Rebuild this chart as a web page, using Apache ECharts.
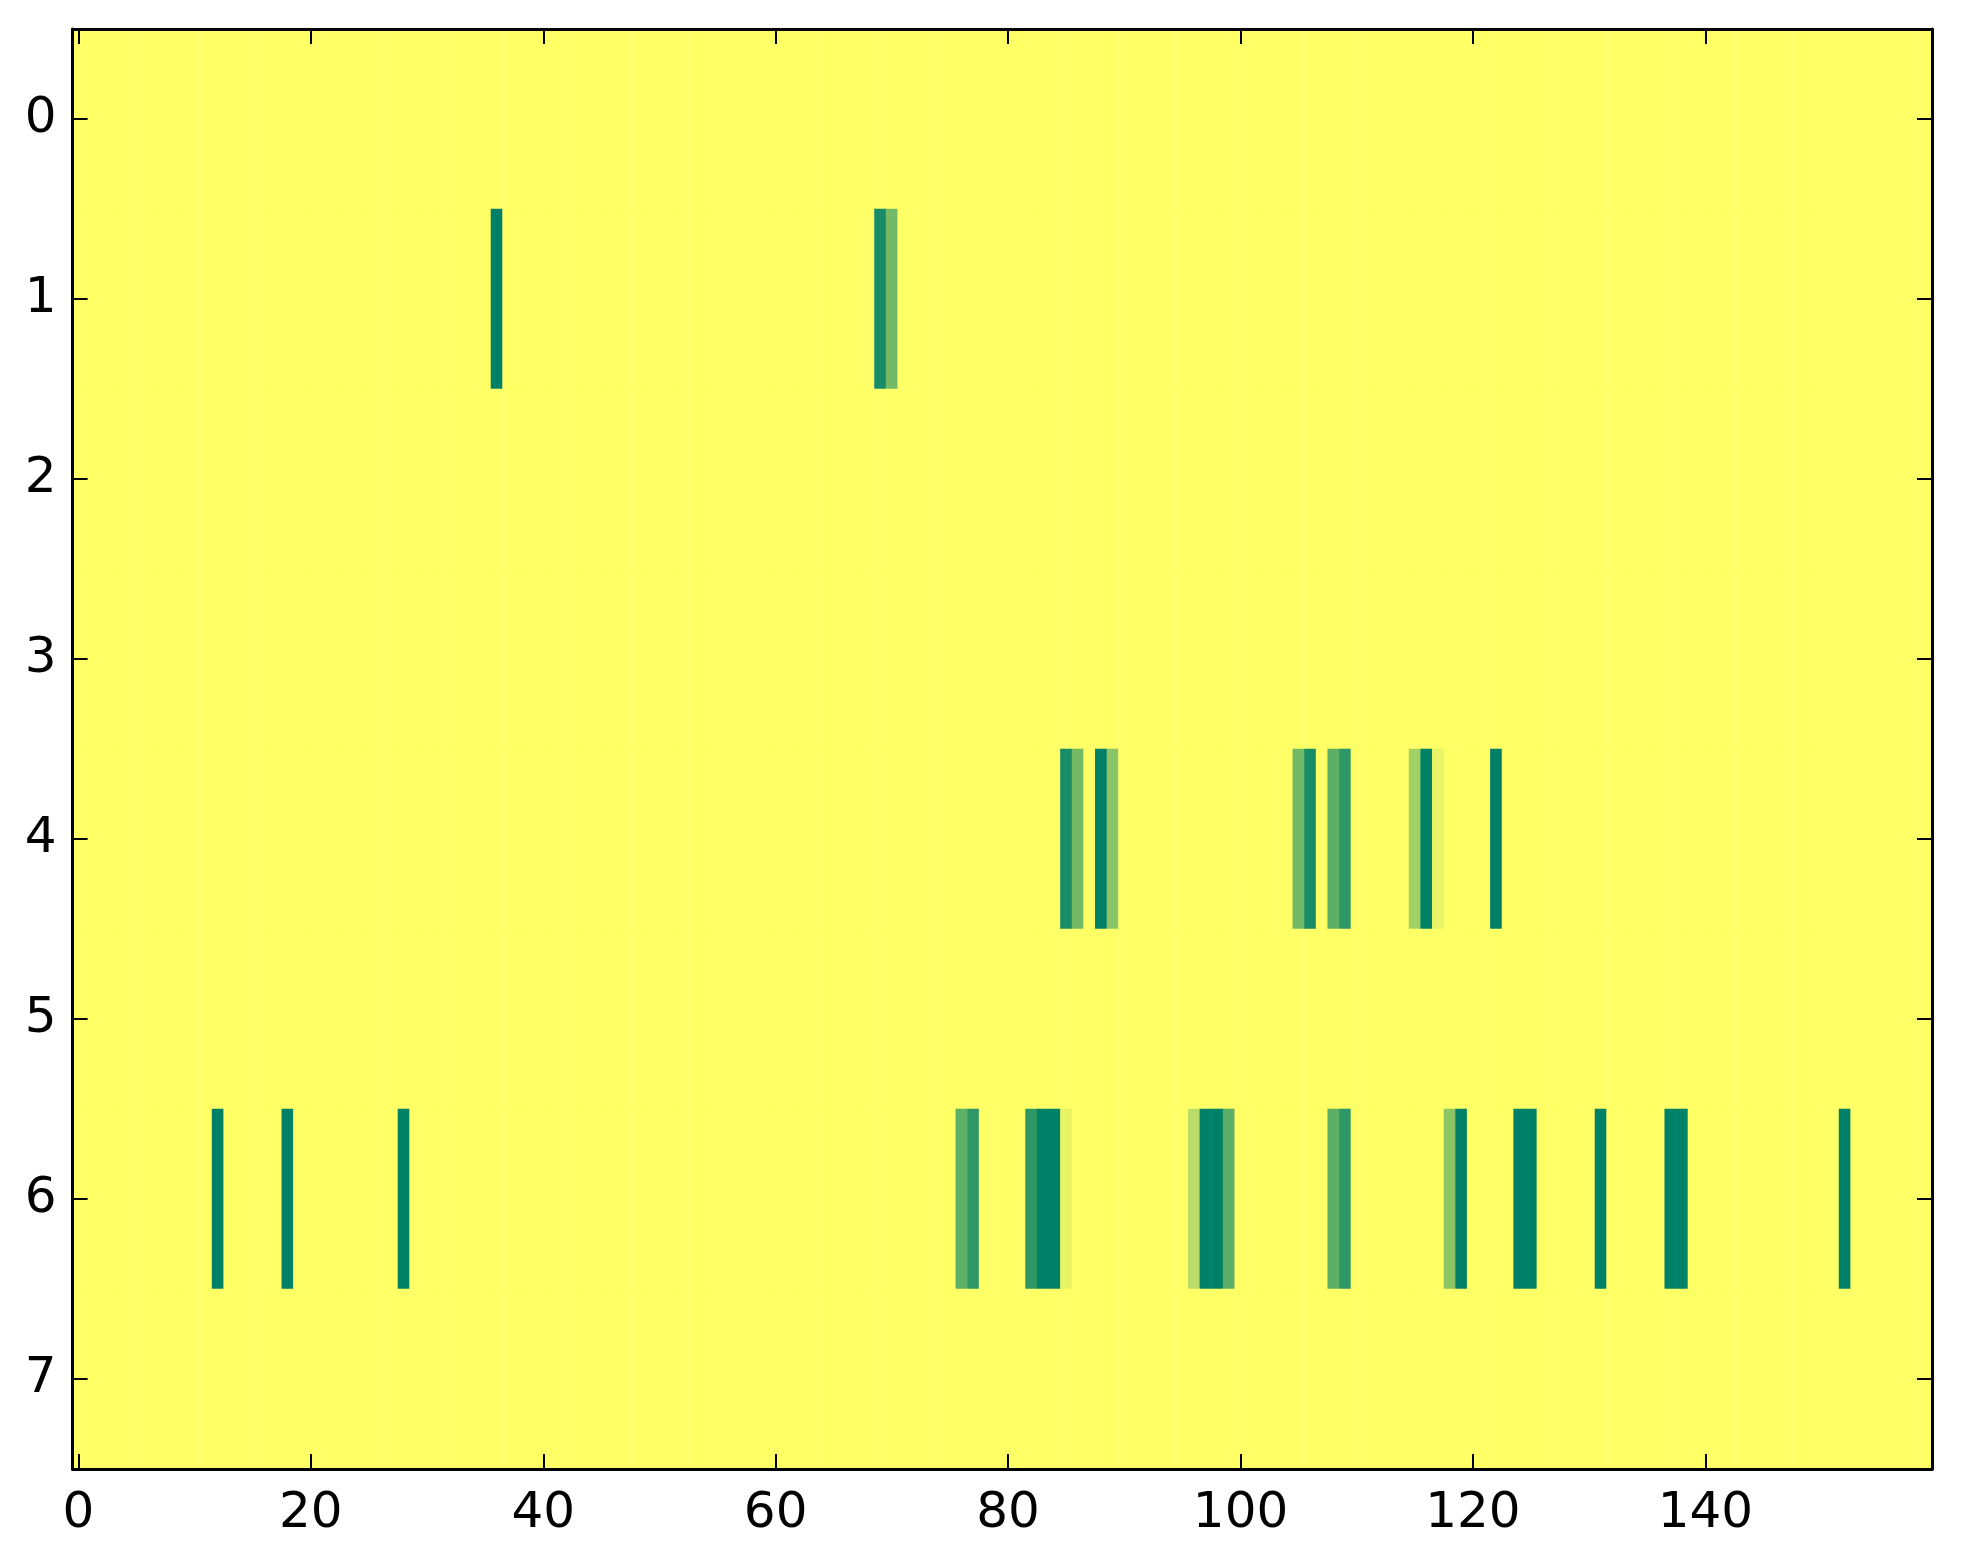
<!DOCTYPE html>
<html><head><meta charset="utf-8">
<script src="https://cdn.jsdelivr.net/npm/echarts@6/dist/echarts.min.js"></script>
<style>html,body{margin:0;padding:0;background:#fff}#c{width:1963px;height:1564px}</style>
</head><body><div id="c"></div>
<script>
// Column categories (0..159) and row categories (0..7)
const xCategories = Array.from({length: 160}, (_, i) => String(i));
const yCategories = ['0','1','2','3','4','5','6','7'];
const xTickLabels = ['0','20','40','60','80','100','120','140'];

// Non-zero cells per row: [column, value]; every other cell is 0
const row1 = [[36,11],[69,10],[70,6]];
const row4 = [[85,10],[86,6],[88,11],[89,5],[105,6],[106,10],[108,7],[109,9],
              [115,4],[116,11],[117,1],[122,11]];
const row6 = [[12,11],[18,11],[28,11],[76,7],[77,9],[82,9],[83,11],[84,11],[85,1],
              [96,3],[97,11],[98,11],[99,7],[108,7],[109,9],[118,5],[119,11],
              [124,11],[125,11],[131,11],[137,11],[138,11],[152,11]];
const rows = {1: row1, 4: row4, 6: row6};

const data = [];
for (let r = 0; r < yCategories.length; r++) {
  const vals = new Array(xCategories.length).fill(0);
  (rows[r] || []).forEach(([c, v]) => { vals[c] = v; });
  vals.forEach((v, c) => data.push([c, r, v]));
}

const showX = (i, v) => xTickLabels.indexOf(String(v)) >= 0;
const font = {fontSize: 50, fontFamily: 'DejaVu Sans', color: '#000'};
const line = {show: true, lineStyle: {color: '#000', width: 3}};

function xAx(pos, lab) {
  return {
    type: 'category', data: xCategories, position: pos, boundaryGap: true, z: 10,
    axisLine: line,
    axisTick: {show: true, inside: true, length: 15, alignWithLabel: true, interval: showX,
               lineStyle: {color: '#000', width: 2}},
    axisLabel: Object.assign({show: lab, interval: showX, margin: 20}, font),
    splitLine: {show: false}
  };
}
function yAx(pos, lab) {
  return {
    type: 'category', data: yCategories, position: pos, inverse: true, boundaryGap: true, z: 10,
    axisLine: line,
    axisTick: {show: true, inside: true, length: 15, alignWithLabel: true, interval: 0,
               lineStyle: {color: '#000', width: 2}},
    axisLabel: Object.assign({show: lab, interval: 0, margin: 16}, font),
    splitLine: {show: false}
  };
}

const chart = echarts.init(document.getElementById('c'), null, {renderer: 'canvas'});
chart.setOption({
  animation: false,
  backgroundColor: '#ffffff',
  grid: {left: 72.6, right: 31, top: 29, bottom: 95, containLabel: false},
  xAxis: [xAx('bottom', true), xAx('top', false)],
  yAxis: [yAx('left', true), yAx('right', false)],
  visualMap: {show: false, min: 0, max: 11, dimension: 2,
              inRange: {color: ['#ffff66', '#008066']}},
  series: [{
    type: 'heatmap', xAxisIndex: 0, yAxisIndex: 0, data: data,
    itemStyle: {borderWidth: 0},
    emphasis: {disabled: true}
  }]
});
</script>
</body></html>
